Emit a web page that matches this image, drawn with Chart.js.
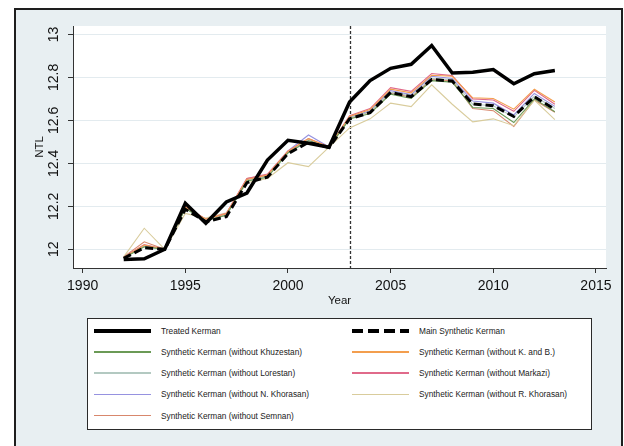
<!DOCTYPE html>
<html>
<head>
<meta charset="utf-8">
<script src="https://cdn.jsdelivr.net/npm/chart.js@4/dist/chart.umd.min.js"></script>
<style>
  html, body { margin: 0; padding: 0; background: #fff; }
  body { width: 624px; height: 446px; position: relative; overflow: hidden;
         font-family: "Liberation Sans", Arial, sans-serif; }
  #frame { position: absolute; left: 14px; top: 8px; width: 609px; height: 460px;
           box-sizing: border-box; border: 2px solid #1e1e1e; background: #e8eff2; }
  #chart { position: absolute; left: 0; top: 0; }
  #legend { position: absolute; left: 87px; top: 318px; width: 505px; height: 112px;
            box-sizing: border-box; border: 1px solid #2a2a2a; background: #fff;
            display: grid; grid-template-columns: 258px 245px; grid-auto-rows: 21.25px;
            padding-top: 1px; }
  .item { display: flex; align-items: center; font-size: 8.3px; color: #222; }
  .sample { width: 57px; margin-left: 6px; margin-right: 10px; flex: none; }
</style>
</head>
<body>
<div id="frame"></div>
<canvas id="chart" width="624" height="446"></canvas>
<div id="legend"></div>
<script>
// Aar og tick-etiketter
const years = [1992, 1993, 1994, 1995, 1996, 1997, 1998, 1999, 2000, 2001, 2002,
               2003, 2004, 2005, 2006, 2007, 2008, 2009, 2010, 2011, 2012, 2013];
const xTicks = [1990, 1995, 2000, 2005, 2010, 2015];
const yTicks = [12, 12.2, 12.4, 12.6, 12.8, 13];
const treatmentYear = 2003;

// Serier (aflaest fra figuren)
const treated     = [11.953, 11.956, 12.0, 12.214, 12.121, 12.22, 12.262, 12.415, 12.507, 12.493, 12.475,
                     12.685, 12.785, 12.842, 12.861, 12.948, 12.82, 12.824, 12.836, 12.77, 12.817, 12.832];
const mainSynth   = [11.958, 12.007, 12.0, 12.186, 12.128, 12.152, 12.31, 12.336, 12.445, 12.498, 12.474,
                     12.607, 12.636, 12.73, 12.71, 12.79, 12.783, 12.676, 12.668, 12.618, 12.71, 12.651];
const noKhuzestan = [11.96, 12.012, 12.0, 12.19, 12.133, 12.158, 12.318, 12.335, 12.448, 12.505, 12.474,
                     12.606, 12.632, 12.722, 12.702, 12.785, 12.778, 12.66, 12.655, 12.59, 12.70, 12.64];
const noKandB     = [11.962, 12.02, 12.0, 12.195, 12.14, 12.165, 12.325, 12.345, 12.456, 12.515, 12.476,
                     12.618, 12.65, 12.745, 12.728, 12.81, 12.805, 12.705, 12.702, 12.652, 12.745, 12.685];
const noLorestan  = [11.962, 12.013, 12.0, 12.19, 12.136, 12.16, 12.318, 12.34, 12.45, 12.51, 12.475,
                     12.612, 12.64, 12.73, 12.714, 12.795, 12.79, 12.675, 12.668, 12.615, 12.712, 12.655];
const noMarkazi   = [11.963, 12.022, 12.0, 12.2, 12.14, 12.168, 12.33, 12.35, 12.458, 12.515, 12.477,
                     12.622, 12.655, 12.752, 12.735, 12.818, 12.808, 12.7, 12.695, 12.642, 12.74, 12.675];
const noNKhorasan = [11.962, 12.015, 12.0, 12.19, 12.138, 12.162, 12.325, 12.342, 12.458, 12.532, 12.476,
                     12.615, 12.645, 12.738, 12.72, 12.805, 12.795, 12.69, 12.68, 12.625, 12.725, 12.665];
const noRKhorasan = [11.965, 12.098, 12.0, 12.167, 12.145, 12.17, 12.31, 12.33, 12.403, 12.385, 12.475,
                     12.565, 12.607, 12.68, 12.664, 12.765, 12.675, 12.593, 12.607, 12.575, 12.694, 12.603];
const noSemnan    = [11.965, 12.035, 12.0, 12.195, 12.14, 12.165, 12.33, 12.345, 12.455, 12.51, 12.476,
                     12.61, 12.64, 12.728, 12.708, 12.79, 12.785, 12.655, 12.645, 12.572, 12.695, 12.638];

const FONT = '"Liberation Sans", Arial, sans-serif';

function line(label, values, color, width, dash) {
    return {
        label: label,
        data: values.map((v, i) => ({ x: years[i], y: v })),
        borderColor: color,
        backgroundColor: color,
        borderWidth: width,
        borderDash: dash || [],
        pointRadius: 0,
        tension: 0,
        fill: false
    };
}

// Hvid plotflade + lodret stiplet linje ved 2003
const bgPlugin = {
    id: 'plotBg',
    beforeDraw(chart) {
        const a = chart.chartArea, ctx = chart.ctx;
        ctx.save();
        ctx.fillStyle = '#ffffff';
        ctx.fillRect(a.left, a.top, a.right - a.left, a.bottom - a.top);
        ctx.restore();
    },
    beforeDatasetsDraw(chart) {
        const a = chart.chartArea, ctx = chart.ctx;
        const x = Math.round(chart.scales.x.getPixelForValue(treatmentYear)) + 0.5;
        ctx.save();
        ctx.strokeStyle = '#333';
        ctx.lineWidth = 1.3;
        ctx.setLineDash([3, 2]);
        ctx.beginPath();
        ctx.moveTo(x, a.top);
        ctx.lineTo(x, a.bottom);
        ctx.stroke();
        ctx.restore();
    }
};

const chart = new Chart(document.getElementById('chart'), {
    type: 'line',
    data: {
        datasets: [
            line('Treated Kerman', treated, '#000000', 3.5),
            line('Main Synthetic Kerman', mainSynth, '#000000', 3, [8, 4]),
            line('Synthetic Kerman (without Khuzestan)', noKhuzestan, '#6b9a56', 1.1),
            line('Synthetic Kerman (without K. and B.)', noKandB, '#f39e4e', 1.1),
            line('Synthetic Kerman (without Lorestan)', noLorestan, '#b3c9c1', 1.1),
            line('Synthetic Kerman (without Markazi)', noMarkazi, '#e06a8a', 1.1),
            line('Synthetic Kerman (without N. Khorasan)', noNKhorasan, '#9692e0', 1.1),
            line('Synthetic Kerman (without R. Khorasan)', noRKhorasan, '#d9cc9c', 1.1),
            line('Synthetic Kerman (without Semnan)', noSemnan, '#d8876c', 1.1)
        ]
    },
    options: {
        responsive: false,
        animation: false,
        events: [],
        layout: { padding: { left: 0, top: 26, right: 18, bottom: 136 } },
        plugins: { legend: { display: false }, tooltip: { enabled: false } },
        scales: {
            x: {
                type: 'linear',
                min: 1989.53,
                max: 2015.49,
                afterBuildTicks: s => { s.ticks = xTicks.map(v => ({ value: v })); },
                afterFit: s => { s.height = 42; },
                grid: { drawOnChartArea: false, tickLength: 5, tickColor: '#333', color: '#333' },
                border: { color: '#333', width: 1 },
                ticks: { color: '#111', font: { family: FONT, size: 14 }, padding: 5,
                         maxRotation: 0, callback: v => String(v) },
                title: { display: true, text: 'Year', color: '#111',
                         font: { family: FONT, size: 11.5 }, padding: { top: 2, bottom: 2 } }
            },
            y: {
                min: 11.913,
                max: 13.039,
                afterBuildTicks: s => { s.ticks = yTicks.map(v => ({ value: v })); },
                afterFit: s => { s.width = 73; },
                grid: { color: '#e3ebef', lineWidth: 1, tickLength: 5, tickColor: '#333' },
                border: { color: '#333', width: 1 },
                ticks: { color: '#111', font: { family: FONT, size: 14 }, padding: 0,
                         minRotation: 90, maxRotation: 90, crossAlign: 'center',
                         callback: v => String(v) },
                title: { display: true, text: 'NTL', color: '#111',
                         font: { family: FONT, size: 11.5 }, padding: { top: 33, bottom: 0 } }
            }
        }
    },
    plugins: [bgPlugin]
});

// HTML-forklaring bygget ud fra Chart.js' egne labels
const legendEl = document.getElementById('legend');
Chart.defaults.plugins.legend.labels.generateLabels(chart).forEach(item => {
    const ds = chart.data.datasets[item.datasetIndex];
    const row = document.createElement('div');
    row.className = 'item';
    const sample = document.createElement('div');
    sample.className = 'sample';
    const h = ds.borderWidth > 2 ? 4 : 1.5;
    sample.style.height = h + 'px';
    if (ds.borderDash.length) {
        sample.style.background = 'repeating-linear-gradient(to right, ' + ds.borderColor +
            ' 0 11px, transparent 11px 16px)';
    } else {
        sample.style.background = ds.borderColor;
    }
    const txt = document.createElement('span');
    txt.textContent = item.text;
    row.appendChild(sample);
    row.appendChild(txt);
    legendEl.appendChild(row);
});
</script>
</body>
</html>
